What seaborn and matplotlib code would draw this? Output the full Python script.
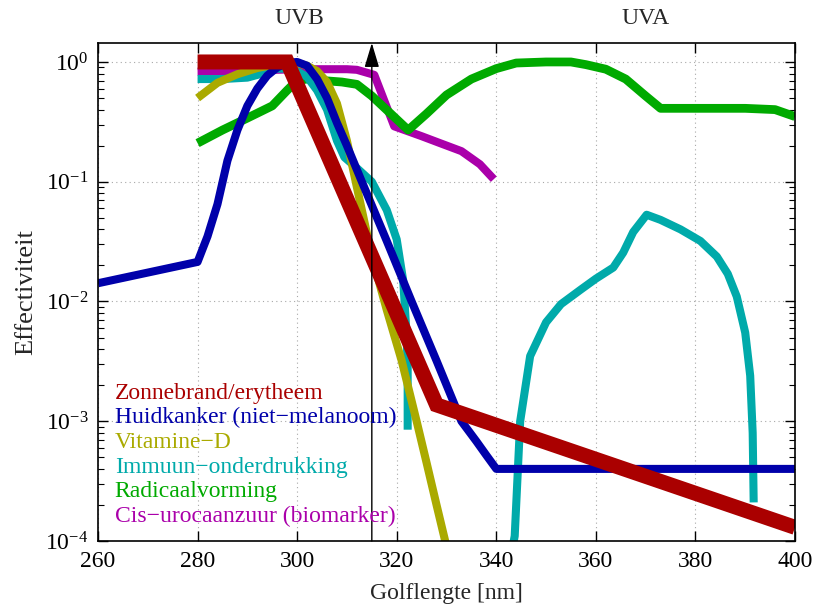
import matplotlib
matplotlib.use("Agg")
import matplotlib.pyplot as plt
import seaborn as sns

# ---------------- data ----------------
series_names = ["Zonnebrand/erytheem", "Huidkanker (niet\u2212melanoom)", "Vitamine\u2212D",
                "Immuun\u2212onderdrukking", "Radicaalvorming", "Cis\u2212urocaanzuur (biomarker)"]
series_colors = ["#aa0000", "#0000aa", "#aaaa00", "#00aaaa", "#00aa00", "#aa00aa"]

red_x = [280, 298, 328, 400]
red_y = [1.0, 1.0, 1.37e-3, 1.3e-4]

blue_x = [260, 280, 282, 284, 286, 288, 290, 292, 294, 296, 298, 300, 302, 304, 306, 308,
          310, 313, 318, 323, 328, 333, 336, 338, 340, 400]
blue_y = [0.0142, 0.0214, 0.035, 0.065, 0.15, 0.27, 0.43, 0.60, 0.77, 0.90, 0.98, 1.0, 0.93,
          0.72, 0.50, 0.31, 0.20, 0.10, 0.032, 0.010, 0.0032, 0.0010, 0.00068, 0.00052,
          0.0004, 0.0004]

yel_x = [280, 284, 288, 292, 296, 298, 300, 302, 304, 306, 308, 310, 312, 315, 318, 321,
         324, 326, 328, 330]
yel_y = [0.50, 0.67, 0.79, 0.89, 0.96, 1.0, 0.98, 0.93, 0.84, 0.68, 0.45, 0.22, 0.09, 0.024,
         0.0085, 0.0032, 0.0010, 0.00045, 0.0002, 0.00009]

cyan1_x = [280, 285, 290, 293, 296, 299, 302, 304, 306, 308, 309.5, 312, 315, 318, 320,
           321.3, 321.9, 322.2, 322.2]
cyan1_y = [0.72, 0.72, 0.74, 0.80, 0.88, 0.88, 0.75, 0.58, 0.40, 0.22, 0.16, 0.13, 0.10,
           0.058, 0.033, 0.015, 0.006, 0.003, 0.00085]

cyan2_x = [343.3, 343.7, 344.8, 346.8, 350, 353, 357, 360, 363.5, 365.5, 367.5, 370.2, 373,
           377, 381, 384.3, 386.5, 388.3, 390, 391, 391.5, 391.7]
cyan2_y = [0.00009, 0.00011, 0.0010, 0.0035, 0.0067, 0.0095, 0.0126, 0.0155, 0.0192, 0.0256,
           0.038, 0.053, 0.048, 0.040, 0.032, 0.0237, 0.017, 0.011, 0.0055, 0.0024, 0.0008,
           0.00021]

green_x = [280, 285, 290, 295, 298, 300, 302, 305, 309, 312, 315, 318.5, 322.3, 326, 330,
           335, 340, 344, 350, 355, 358, 362, 366, 370, 373, 380, 390, 396, 400]
green_y = [0.21, 0.27, 0.34, 0.43, 0.58, 0.70, 0.72, 0.70, 0.68, 0.65, 0.52, 0.38, 0.27, 0.37,
           0.53, 0.72, 0.88, 0.98, 1.0, 1.0, 0.95, 0.87, 0.72, 0.52, 0.41, 0.41, 0.41, 0.40,
           0.35]

mag_x = [280, 290, 296, 300, 305, 310, 312, 315.5, 319.5, 325, 328.7, 333, 336.7, 339.5]
mag_y = [0.83, 0.84, 0.86, 0.87, 0.87, 0.87, 0.86, 0.78, 0.29, 0.24, 0.21, 0.18, 0.14, 0.105]

x_ticks = [260, 280, 300, 320, 340, 360, 380, 400]
y_ticks = [1e-4, 1e-3, 1e-2, 1e-1, 1e0]
y_ticklabels = [r"$10^{-4}$", r"$10^{-3}$", r"$10^{-2}$", r"$10^{-1}$", r"$10^{0}$"]
band_labels = ["UVB", "UVA"]
band_x = [300.5, 370]
boundary_x = 315

# ---------------- style ----------------
sns.set_style("ticks")
plt.rcParams["font.family"] = ["Liberation Serif", "DejaVu Serif"]
plt.rcParams["mathtext.fontset"] = "custom"
plt.rcParams["mathtext.rm"] = "Liberation Serif"
plt.rcParams["mathtext.it"] = "Liberation Serif:italic"
plt.rcParams["mathtext.bf"] = "Liberation Serif:bold"

fig = plt.figure(figsize=(8.17, 6.15), dpi=100)
ax = fig.add_axes([98 / 817, 74 / 615, 697 / 817, 498 / 615])

lw_thin = 5.8
kw = dict(ax=ax, sort=False, estimator=None, legend=False)

def draw(xs, ys, color, lw, join="round"):
    sns.lineplot(x=xs, y=ys, color=color, linewidth=lw, solid_capstyle="butt",
                 solid_joinstyle=join, **kw)

draw(mag_x, mag_y, series_colors[5], lw_thin)
draw(green_x, green_y, series_colors[4], 6.3)
draw(cyan1_x, cyan1_y, series_colors[3], lw_thin)
draw(cyan2_x, cyan2_y, series_colors[3], lw_thin)
draw(yel_x, yel_y, series_colors[2], lw_thin)
draw(blue_x, blue_y, series_colors[1], lw_thin)
draw(red_x, red_y, series_colors[0], 10.8, join="miter")

ax.set_yscale("log")
ax.set_xlim(260, 400)
ax.set_ylim(1e-4, 1.44)
ax.set_xticks(x_ticks)
ax.set_xticklabels([str(v) for v in x_ticks])
ax.set_yticks(y_ticks)
ax.set_yticklabels(y_ticklabels)

ax.grid(True, which="major", linestyle=(0, (1, 3)), color="#a8a8a8", linewidth=0.8)
ax.tick_params(which="both", direction="in", top=True, right=True, labelsize=17, colors="black")
ax.tick_params(which="major", length=7, width=1.0, pad=7)
ax.tick_params(which="minor", length=4, width=0.8)
for s in ax.spines.values():
    s.set_linewidth(1.2)
    s.set_color("black")

ax.set_xlabel("Golflengte [nm]", fontsize=17, labelpad=8)
ax.set_ylabel("Effectiviteit", fontsize=19, labelpad=6)

# UVB / UVA boundary arrow
ax.annotate("", xy=(boundary_x, 1.44), xytext=(boundary_x, 1e-4),
            xycoords="data", textcoords="data",
            arrowprops=dict(arrowstyle="-|>,head_length=0.5,head_width=0.15",
                            mutation_scale=30, color="black", lw=1.0,
                            shrinkA=0, shrinkB=0))
for lbl, bx in zip(band_labels, band_x):
    ax.text(bx, 1.05, lbl, transform=ax.get_xaxis_transform(), ha="center", va="center",
            fontsize=17)

# text-only legend
for i, (name, col) in enumerate(zip(series_names, series_colors)):
    ax.text(0.024, 0.297 - i * 0.0496, name, color=col, transform=ax.transAxes,
            ha="left", va="center", fontsize=17)

fig.savefig("out.png", dpi=100)
